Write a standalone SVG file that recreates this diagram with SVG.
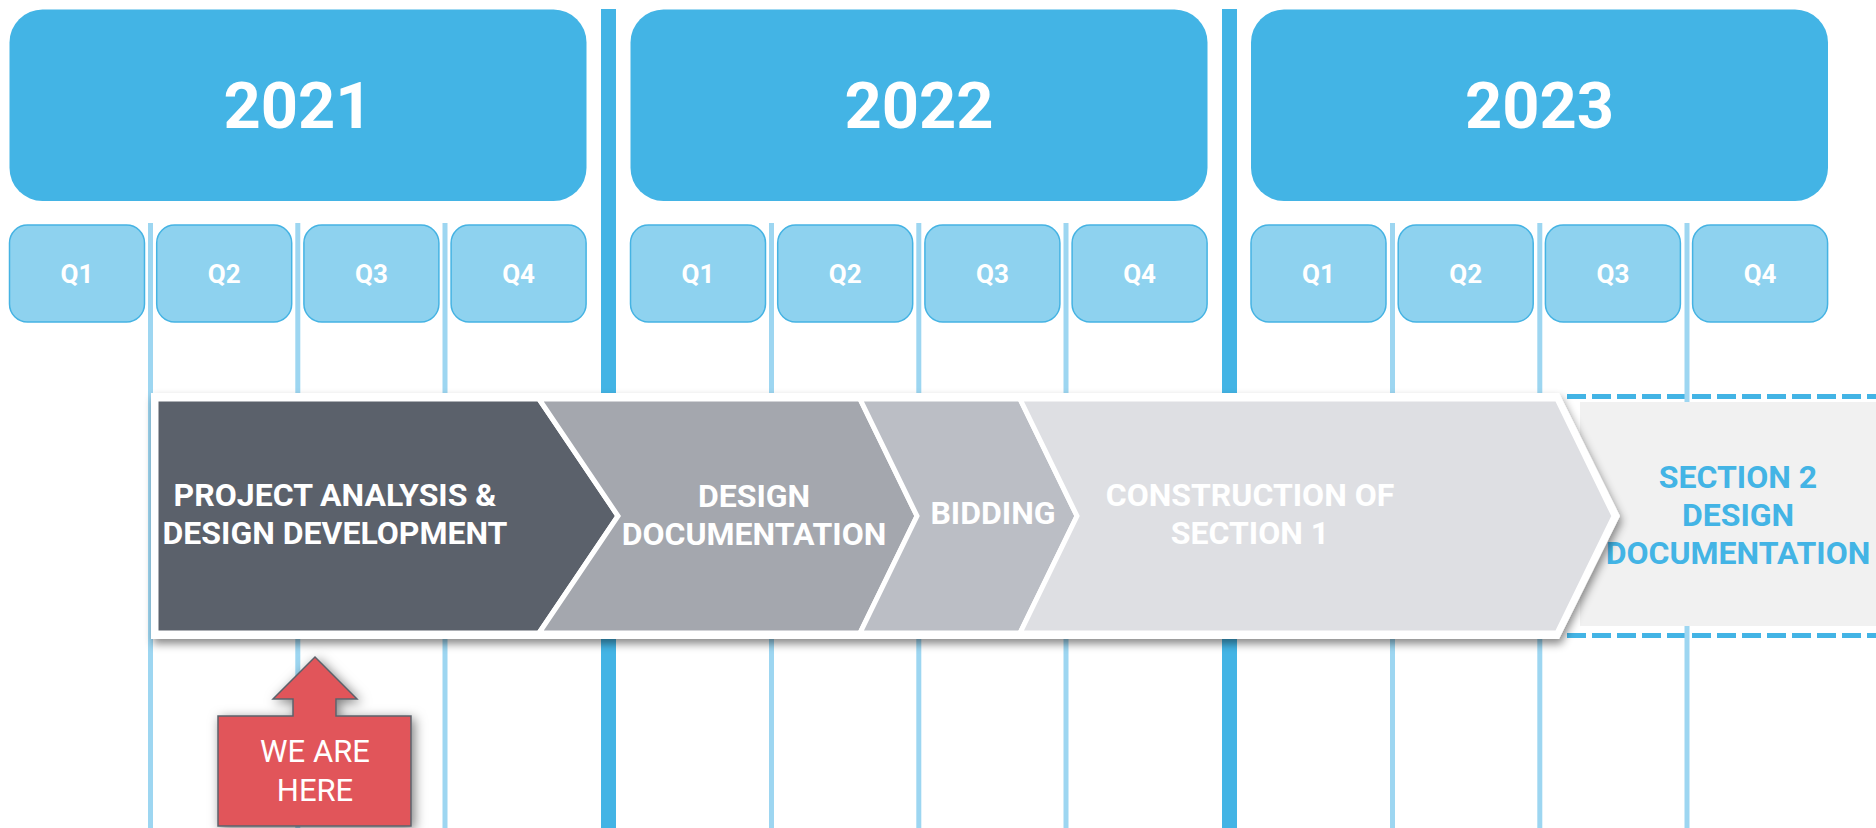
<svg xmlns="http://www.w3.org/2000/svg" width="1876" height="828" viewBox="0 0 1876 828">
<defs>
<style>
.year{fill:#43b4e5}
.yt{font-family:Roboto,"Liberation Sans",sans-serif;font-weight:700;font-size:65px;fill:#fff;text-anchor:middle}
.q{fill:#8ed2ef;stroke:#45b3e3;stroke-width:1.5}
.qt{font-family:Roboto,"Liberation Sans",sans-serif;font-weight:700;font-size:26px;fill:#fff;text-anchor:middle}
.thin{fill:#9dd6f1}
.thick{fill:#43b4e5}
.chev{stroke:#fff;stroke-width:5;stroke-linejoin:miter}
.lbl{font-family:Roboto,"Liberation Sans",sans-serif;font-weight:700;font-size:32px;fill:#fff;text-anchor:middle}
.here{font-family:Roboto,"Liberation Sans",sans-serif;font-weight:400;font-size:31px;fill:#fff;text-anchor:middle}
</style>
<filter id="sh" x="-10%" y="-20%" width="120%" height="150%">
<feDropShadow dx="2" dy="5" stdDeviation="4" flood-color="#000" flood-opacity="0.45"/>
</filter>
<filter id="sh2" x="-30%" y="-30%" width="160%" height="160%">
<feDropShadow dx="3" dy="3" stdDeviation="6" flood-color="#000" flood-opacity="0.5"/>
</filter>
</defs>
<rect width="1876" height="828" fill="#fff"/>

<g id="dividers">
<rect class="thick" x="601" y="9" width="15" height="819"/>
<rect class="thick" x="1222" y="9" width="15" height="819"/>
<rect class="thin" x="148" y="223" width="5" height="605"/>
<rect class="thin" x="295.3" y="223" width="5" height="605"/>
<rect class="thin" x="442.5" y="223" width="5" height="605"/>
<rect class="thin" x="769" y="223" width="5" height="605"/>
<rect class="thin" x="916.3" y="223" width="5" height="605"/>
<rect class="thin" x="1063.5" y="223" width="5" height="605"/>
<rect class="thin" x="1390" y="223" width="5" height="605"/>
<rect class="thin" x="1537.3" y="223" width="5" height="605"/>
</g>

<g id="year-2021">
<rect class="year" x="9.5" y="9.5" width="577" height="191.5" rx="33"/>
<text class="yt" x="298" y="128">2021</text>
</g>
<g id="year-2022">
<rect class="year" x="630.5" y="9.5" width="577" height="191.5" rx="33"/>
<text class="yt" x="919" y="128">2022</text>
</g>
<g id="year-2023">
<rect class="year" x="1251" y="9.5" width="577" height="191.5" rx="33"/>
<text class="yt" x="1539.5" y="128">2023</text>
</g>

<g id="quarters-2021">
<rect class="q" x="9.5" y="225" width="135" height="97" rx="18"/><text class="qt" x="77" y="283">Q1</text>
<rect class="q" x="156.7" y="225" width="135" height="97" rx="18"/><text class="qt" x="224.2" y="283">Q2</text>
<rect class="q" x="303.9" y="225" width="135" height="97" rx="18"/><text class="qt" x="371.4" y="283">Q3</text>
<rect class="q" x="451.1" y="225" width="135" height="97" rx="18"/><text class="qt" x="518.6" y="283">Q4</text>
</g>
<g id="quarters-2022">
<rect class="q" x="630.5" y="225" width="135" height="97" rx="18"/><text class="qt" x="698" y="283">Q1</text>
<rect class="q" x="777.7" y="225" width="135" height="97" rx="18"/><text class="qt" x="845.2" y="283">Q2</text>
<rect class="q" x="924.9" y="225" width="135" height="97" rx="18"/><text class="qt" x="992.4" y="283">Q3</text>
<rect class="q" x="1072.1" y="225" width="135" height="97" rx="18"/><text class="qt" x="1139.6" y="283">Q4</text>
</g>
<g id="quarters-2023">
<rect class="q" x="1251" y="225" width="135" height="97" rx="18"/><text class="qt" x="1318.5" y="283">Q1</text>
<rect class="q" x="1398.2" y="225" width="135" height="97" rx="18"/><text class="qt" x="1465.7" y="283">Q2</text>
<rect class="q" x="1545.4" y="225" width="135" height="97" rx="18"/><text class="qt" x="1612.9" y="283">Q3</text>
<rect class="q" x="1692.6" y="225" width="135" height="97" rx="18"/><text class="qt" x="1760.1" y="283">Q4</text>
</g>

<g id="section2">
<line x1="1567" y1="396.5" x2="1876" y2="396.5" stroke="#43b4e5" stroke-width="5" stroke-dasharray="19 6"/>
<line x1="1567" y1="635.5" x2="1876" y2="635.5" stroke="#43b4e5" stroke-width="5" stroke-dasharray="19 6"/>
<rect class="thin" x="1684.5" y="223" width="5" height="605"/>
<rect x="1580" y="402" width="296" height="224" fill="#f1f1f1"/>
<text class="lbl" style="fill:#43b4e5" x="1738" y="488">SECTION 2</text>
<text class="lbl" style="fill:#43b4e5" x="1738" y="526">DESIGN</text>
<text class="lbl" style="fill:#43b4e5" x="1738" y="564">DOCUMENTATION</text>
</g>

<g id="phases">
<polygon points="151,393 1559,393 1620,516 1559,639 151,639" fill="#fff" filter="url(#sh)"/>
<g id="phase-analysis">
<polygon class="chev" fill="#5b616b" points="156,399 539,399 618,516 539,633 156,633"/>
<text class="lbl" x="335" y="506">PROJECT ANALYSIS &amp;</text>
<text class="lbl" x="335" y="544">DESIGN DEVELOPMENT</text>
</g>
<g id="phase-documentation">
<polygon class="chev" fill="#a4a7ae" points="539,399 860,399 917,516 860,633 539,633 618,516"/>
<text class="lbl" x="754" y="507">DESIGN</text>
<text class="lbl" x="754" y="545">DOCUMENTATION</text>
</g>
<g id="phase-bidding">
<polygon class="chev" fill="#bbbec5" points="860,399 1020,399 1077,516 1020,633 860,633 917,516"/>
<text class="lbl" x="993" y="524">BIDDING</text>
</g>
<g id="phase-construction">
<polygon class="chev" fill="#dedfe3" points="1020,399 1557,399 1614,516 1557,633 1020,633 1077,516"/>
<text class="lbl" x="1250" y="506">CONSTRUCTION OF</text>
<text class="lbl" x="1250" y="544">SECTION 1</text>
</g>
</g>

<g id="we-are-here">
<polygon points="315,657 357,699 336,699 336,716 411,716 411,826 218,826 218,716 293,716 293,699 273,699" fill="#e1555a" stroke="#5b616b" stroke-width="1.5" filter="url(#sh2)"/>
<text class="here" x="315" y="762">WE ARE</text>
<text class="here" x="315" y="801">HERE</text>
</g>
</svg>
